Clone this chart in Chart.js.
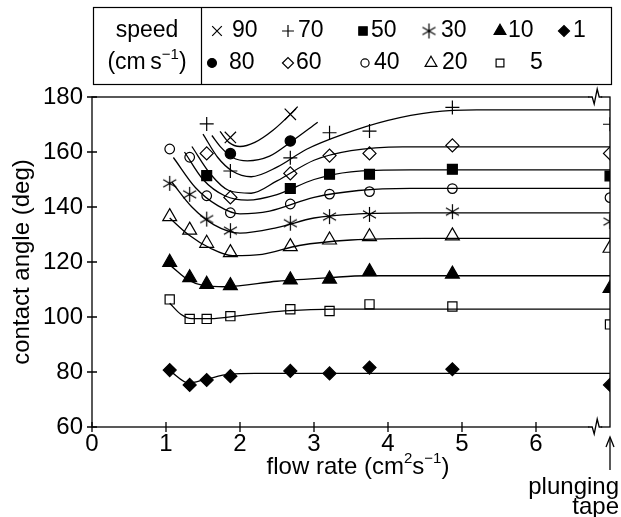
<!DOCTYPE html>
<html>
<head>
<meta charset="utf-8">
<script src="https://cdn.jsdelivr.net/npm/chart.js@4"></script>
<style>
html,body{margin:0;padding:0;background:#fff;}
#wrap{position:relative;width:621px;height:517px;}
</style>
</head>
<body>
<div id="wrap"><canvas id="c" width="621" height="517"></canvas></div>
<script>
// ---------- data ----------
const flowX = [1.05, 1.32, 1.55, 1.87, 2.68, 3.21, 3.75, 4.87, 7];   // x = 7 is "plunging tape"
const speeds = [90, 80, 70, 60, 50, 40, 30, 20, 10, 5, 1];
const angle90 = [null, null, null, 165.3, 173.7, null, null, null, null];
const angle80 = [null, null, null, 159.4, 164.0, null, null, null, null];
const angle70 = [null, null, 170.2, 153.1, 157.9, 167.0, 167.6, 176.2, 170.1];
const angle60 = [null, null, 159.5, 143.5, 152.2, 158.7, 159.5, 162.4, 159.5];
const angle50 = [null, null, 151.4, null, 146.7, 151.9, 151.9, 153.7, 151.3];
const angle40 = [161.1, 158.1, 144.1, 137.9, 141.1, 144.7, 145.6, 146.7, 143.4];
const angle30 = [148.6, 144.6, 135.6, 131.4, 134.1, 136.5, 137.3, 138.3, 134.7];
const angle20 = [136.5, 131.6, 126.8, 123.4, 125.6, 128.0, 129.2, 129.5, 125.0];
const angle10 = [119.9, 114.3, 111.9, 111.4, 113.5, 113.8, 116.5, 115.6, 110.4];
const angle5  = [106.4, 99.3, 99.3, 100.3, 102.8, 102.2, 104.6, 103.8, 97.3];
const angle1  = [80.7, 75.3, 77.1, 78.5, 80.4, 79.5, 81.6, 81.0, 75.3];

// fitted curves
const fit90x = [1.73, 1.85, 2.0, 2.2, 2.45, 2.68, 2.78];
const fit90y = [167.5, 163.5, 162.0, 163.5, 168.0, 173.7, 176.5];
const fit80x = [1.62, 1.75, 1.9, 2.1, 2.4, 2.68, 3.05];
const fit80y = [166.0, 161.5, 158.0, 156.8, 158.5, 163.5, 170.8];
const fit70x = [1.5, 1.7, 1.9, 2.15, 2.5, 2.9, 3.4, 4.0, 4.6, 5.2, 7];
const fit70y = [166.5, 158.0, 153.0, 151.0, 154.5, 161.0, 166.5, 171.5, 174.5, 175.3, 175.3];
const fit60x = [1.35, 1.6, 1.85, 2.15, 2.5, 3.0, 3.5, 4.2, 7];
const fit60y = [162.0, 152.0, 146.0, 145.0, 149.5, 157.0, 160.5, 161.9, 161.9];
const fit50x = [1.25, 1.5, 1.8, 2.1, 2.5, 3.0, 3.5, 4.3, 7];
const fit50y = [160.0, 150.0, 144.0, 142.5, 144.5, 150.0, 152.8, 153.5, 153.5];
const fit40x = [1.1, 1.4, 1.7, 2.0, 2.4, 3.0, 3.6, 4.3, 7];
const fit40y = [158.0, 147.0, 140.5, 137.5, 138.5, 143.5, 146.0, 146.8, 146.8];
const fit30x = [1.08, 1.35, 1.65, 2.0, 2.5, 3.0, 3.6, 4.4, 7];
const fit30y = [149.0, 140.0, 133.5, 130.5, 132.5, 136.0, 137.5, 137.9, 137.9];
const fit20x = [1.05, 1.3, 1.6, 1.9, 2.3, 2.8, 3.5, 4.5, 7];
const fit20y = [136.0, 130.0, 125.0, 122.3, 122.8, 126.0, 128.0, 128.6, 128.6];
const fit10x = [1.07, 1.3, 1.5, 1.8, 2.5, 3.2, 3.7, 7];
const fit10y = [118.5, 113.5, 111.5, 111.0, 113.0, 114.3, 115.0, 115.0];
const fit5x  = [1.05, 1.2, 1.35, 1.6, 2.0, 2.6, 3.3, 7];
const fit5y  = [105.0, 101.0, 99.4, 99.4, 100.5, 102.2, 102.9, 102.9];
const fit1x  = [1.05, 1.31, 1.53, 1.86, 2.2, 7];
const fit1y  = [80.5, 76.0, 77.3, 79.2, 79.5, 79.5];

const xTicks = [0, 1, 2, 3, 4, 5, 6];
const yTicks = [60, 80, 100, 120, 140, 160, 180];

// ---------- marker styles ----------
const FONT = '"Liberation Sans", Arial, sans-serif';
function asterisk(size) {
  const c = document.createElement('canvas');
  c.width = size + 2; c.height = size + 2;
  const g = c.getContext('2d');
  const m = c.width / 2, r = size / 2;
  g.strokeStyle = '#000'; g.lineWidth = 1.2;
  g.beginPath();
  for (const a of [90, 30, 150]) {
    const t = a * Math.PI / 180;
    g.moveTo(m - r * Math.cos(t), m - r * Math.sin(t));
    g.lineTo(m + r * Math.cos(t), m + r * Math.sin(t));
  }
  g.stroke();
  return c;
}
const star30 = asterisk(15);

const markerStyle = {
  90: {pointStyle: 'crossRot', radius: 8, fill: false},
  80: {pointStyle: 'circle', radius: 5.2, fill: true},
  70: {pointStyle: 'cross', radius: 7, fill: false},
  60: {pointStyle: 'rectRot', radius: 6.5, fill: false},
  50: {pointStyle: 'rect', radius: 7, fill: true},
  40: {pointStyle: 'circle', radius: 4.8, fill: false},
  30: {pointStyle: star30, radius: 8, fill: false},
  20: {pointStyle: 'triangle', radius: 8, fill: false},
  10: {pointStyle: 'triangle', radius: 8, fill: true},
  5:  {pointStyle: 'rect', radius: 6.5, fill: false},
  1:  {pointStyle: 'rectRot', radius: 6.5, fill: true}
};

const angleBySpeed = {90: angle90, 80: angle80, 70: angle70, 60: angle60, 50: angle50,
  40: angle40, 30: angle30, 20: angle20, 10: angle10, 5: angle5, 1: angle1};
const fitBySpeed = {90: [fit90x, fit90y], 80: [fit80x, fit80y], 70: [fit70x, fit70y],
  60: [fit60x, fit60y], 50: [fit50x, fit50y], 40: [fit40x, fit40y], 30: [fit30x, fit30y],
  20: [fit20x, fit20y], 10: [fit10x, fit10y], 5: [fit5x, fit5y], 1: [fit1x, fit1y]};

const datasets = [];
for (const s of speeds) {
  const [fx, fy] = fitBySpeed[s];
  datasets.push({
    label: 'fit ' + s,
    data: fx.map((x, i) => ({x, y: fy[i]})),
    showLine: true, borderColor: '#000', borderWidth: 1.3,
    pointRadius: 0, pointHoverRadius: 0, cubicInterpolationMode: 'monotone', fill: false
  });
}
for (const s of speeds) {
  const st = markerStyle[s];
  datasets.push({
    label: String(s),
    data: flowX.map((x, i) => ({x, y: angleBySpeed[s][i]})).filter(p => p.y !== null),
    showLine: false,
    pointStyle: st.pointStyle, pointRadius: st.radius, pointHoverRadius: st.radius,
    pointBorderColor: '#000', pointBorderWidth: 1.2,
    pointBackgroundColor: st.fill ? '#000' : '#fff'
  });
}

// ---------- decorations: frame, ticks, breaks, legend, titles ----------
function sup(ctx, parts, x, y, align) {
  const base = ctx.font;
  let w = 0;
  for (const [t, s] of parts) { ctx.font = s ? '15px ' + FONT : base; w += ctx.measureText(t).width; ctx.font = base; }
  let cx = align === 'center' ? x - w / 2 : (align === 'right' ? x - w : x);
  ctx.textAlign = 'left';
  for (const [t, s] of parts) {
    ctx.font = s ? '15px ' + FONT : base;
    ctx.fillText(t, cx, s ? y - 8 : y);
    cx += ctx.measureText(t).width;
    ctx.font = base;
  }
}

const deco = {
  id: 'deco',
  afterDatasetsDraw(chart) {
    const ctx = chart.ctx, a = chart.chartArea;
    const xs = chart.scales.x, ys = chart.scales.y;
    ctx.save();
    ctx.strokeStyle = '#000'; ctx.lineWidth = 1.3; ctx.fillStyle = '#000';
    // frame
    ctx.strokeRect(a.left, a.top, a.right - a.left, a.bottom - a.top);
    // ticks crossing axes
    ctx.beginPath();
    for (const v of yTicks) { const p = ys.getPixelForValue(v); ctx.moveTo(a.left - 5, p); ctx.lineTo(a.left + 5, p); }
    for (const v of xTicks) { const p = xs.getPixelForValue(v); ctx.moveTo(p, a.bottom - 5); ctx.lineTo(p, a.bottom + 5); }
    ctx.stroke();
    // axis breaks near x = 6.8
    const bx = xs.getPixelForValue(6.8);
    for (const y of [a.top, a.bottom]) {
      ctx.fillStyle = '#fff';
      ctx.fillRect(bx - 6, y - 2, 12, 4);
      ctx.beginPath();
      ctx.moveTo(bx - 7, y);
      ctx.lineTo(bx - 3, y);
      ctx.lineTo(bx - 1, y + 7);
      ctx.lineTo(bx + 2, y - 8);
      ctx.lineTo(bx + 4, y);
      ctx.lineTo(bx + 7, y);
      ctx.stroke();
    }
    ctx.fillStyle = '#000';
    // x axis title
    ctx.font = '24px ' + FONT; ctx.textBaseline = 'middle';
    sup(ctx, [['flow rate (cm', false], ['2', true], ['s', false], ['\u22121', true], [')', false]], 358, 467, 'center');
    // plunging tape
    ctx.textAlign = 'right';
    ctx.fillText('plunging', 619, 487);
    ctx.fillText('tape', 619, 507);
    // arrow
    const px = xs.getPixelForValue(7);
    ctx.beginPath(); ctx.moveTo(px, 470); ctx.lineTo(px, 438); ctx.stroke();
    ctx.beginPath(); ctx.moveTo(px - 4, 447); ctx.lineTo(px, 437); ctx.lineTo(px + 4, 447); ctx.stroke();
    // y axis title
    ctx.save();
    ctx.translate(22, (a.top + a.bottom) / 2);
    ctx.rotate(-Math.PI / 2);
    ctx.textAlign = 'center';
    ctx.fillText('contact angle (deg)', 0, 0);
    ctx.restore();
    // legend box
    ctx.lineWidth = 1.2;
    ctx.strokeRect(93.5, 7.5, 518, 77);
    ctx.beginPath(); ctx.moveTo(201.5, 7.5); ctx.lineTo(201.5, 84.5); ctx.stroke();
    ctx.font = '23px ' + FONT; ctx.textAlign = 'center';
    ctx.fillText('speed', 147, 31);
    sup(ctx, [['(cm\u2009s', false], ['\u22121', true], [')', false]], 147, 63, 'center');
    const row1 = [[90, 217, 232], [70, 288, 298], [50, 363, 371], [30, 429, 441], [10, 500, 508], [1, 564, 573]];
    const row2 = [[80, 212, 229], [60, 288, 296], [40, 365, 374], [20, 431, 442], [5, 500, 530]];
    for (const [row, y] of [[row1, 31], [row2, 63]]) {
      for (const [s, mx, tx] of row) {
        const st = markerStyle[s];
        ctx.fillStyle = st.fill ? '#000' : '#fff';
        ctx.lineWidth = 1.2;
        Chart.helpers.drawPoint(ctx, {pointStyle: st.pointStyle, radius: st.radius * 0.85, rotation: 0, borderWidth: 1.2}, mx, y);
        ctx.fillStyle = '#000';
        ctx.textAlign = 'left';
        ctx.fillText(String(s), tx, y);
      }
    }
    ctx.restore();
  }
};

new Chart(document.getElementById('c'), {
  type: 'scatter',
  data: {datasets},
  options: {
    responsive: false, animation: false, devicePixelRatio: 1,
    layout: {padding: {top: 97, right: 11, left: 0, bottom: 0}},
    plugins: {legend: {display: false}, tooltip: {enabled: false}},
    scales: {
      x: {
        type: 'linear', min: 0, max: 7,
        afterFit: s => { s.height = 90; },
        afterBuildTicks: s => { s.ticks = xTicks.map(v => ({value: v})); },
        grid: {display: false, drawTicks: false},
        border: {display: false},
        ticks: {color: '#000', font: {family: FONT, size: 24}, padding: 3, maxRotation: 0, autoSkip: false}
      },
      y: {
        min: 60, max: 180,
        afterFit: s => { s.width = 92; },
        afterBuildTicks: s => { s.ticks = yTicks.map(v => ({value: v})); },
        grid: {display: false, drawTicks: false},
        border: {display: false},
        ticks: {color: '#000', font: {family: FONT, size: 24}, padding: 9}
      }
    }
  },
  plugins: [deco]
});
</script>
</body>
</html>
